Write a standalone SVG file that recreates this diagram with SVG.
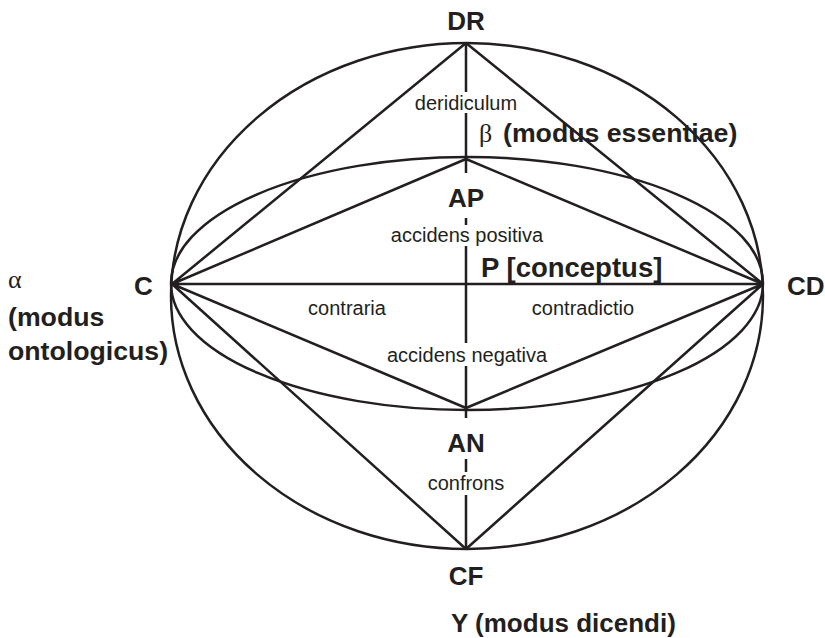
<svg xmlns="http://www.w3.org/2000/svg" width="825" height="638" viewBox="0 0 825 638">
<style>
.ln{stroke:#231f20;stroke-width:2.5;fill:none;stroke-linecap:butt}
.b{font-family:"Liberation Sans",Arial,sans-serif;font-weight:bold;font-size:26px;fill:#231f20}
.r{font-family:"Liberation Sans",Arial,sans-serif;font-size:20px;fill:#231f20}
.g{font-family:"Liberation Serif","Times New Roman",serif;font-size:26px;fill:#231f20}
.m{text-anchor:middle}
</style>
<rect width="825" height="638" fill="#fff"/>
<g id="connectors">
<ellipse class="ln" cx="467" cy="296" rx="296" ry="253"/>
<ellipse class="ln" cx="467" cy="283.5" rx="296" ry="126.5"/>
<path class="ln" d="M172,284 L466,43 M172,284 L466,159 M172,284 L763,284 M172,284 L466,408 M172,284 L466,549"/>
<path class="ln" d="M763,284 L466,43 M763,284 L466,159 M763,284 L466,408 M763,284 L466,549"/>
<path class="ln" d="M466,43 V92 M466,113 V173 M466,218 V225 M466,246 V343 M466,366 V418 M466,459 V472 M466,495 V549"/>
</g>
<g id="DR"><text class="b m" x="466" y="30">DR</text></g>
<g id="deridiculum"><text class="r m" x="466" y="110">deridiculum</text></g>
<g id="beta"><text class="g" x="479" y="142">β</text><text class="b" x="503" y="142" style="font-size:26.7px">(modus essentiae)</text></g>
<g id="AP"><text class="b m" x="466" y="207">AP</text></g>
<g id="accidens-positiva"><text class="r m" x="467" y="242">accidens positiva</text></g>
<g id="P"><text class="b" x="481" y="277" style="font-size:27.5px">P [conceptus]</text></g>
<g id="alpha"><text class="g" x="8" y="288">α</text><text class="b" x="8" y="326" style="font-size:26.7px">(modus</text><text class="b" x="8" y="360" style="font-size:26.7px">ontologicus)</text></g>
<g id="C"><text class="b" x="134" y="295">C</text></g>
<g id="CD"><text class="b" x="787" y="295">CD</text></g>
<g id="contraria"><text class="r m" x="347" y="315">contraria</text></g>
<g id="contradictio"><text class="r m" x="583" y="315">contradictio</text></g>
<g id="accidens-negativa"><text class="r m" x="467" y="362">accidens negativa</text></g>
<g id="AN"><text class="b m" x="466" y="452">AN</text></g>
<g id="confrons"><text class="r m" x="466" y="490">confrons</text></g>
<g id="CF"><text class="b m" x="466" y="585">CF</text></g>
<g id="Y"><text class="b" x="451" y="632">Y (modus dicendi)</text></g>
</svg>
